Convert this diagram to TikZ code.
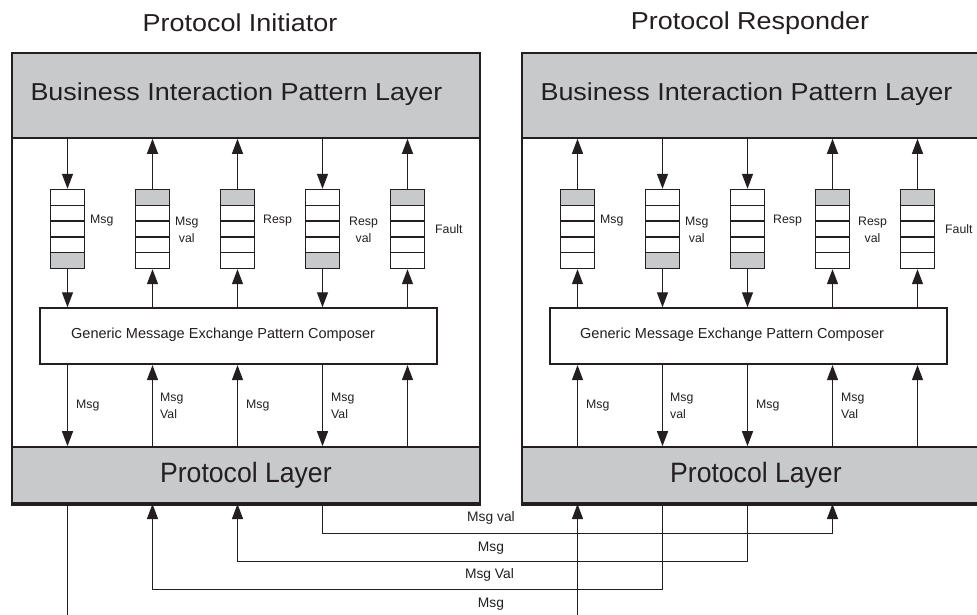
\documentclass[tikz,border=0pt]{standalone}
\usepackage{fontspec}
\setmainfont{Liberation Sans}
\newfontfamily\widesans[FakeStretch=1.1]{Liberation Sans}
\newfontfamily\narrowsans[FakeStretch=0.95]{Liberation Sans}
\usetikzlibrary{arrows.meta,shapes.multipart}
\definecolor{layergray}{HTML}{C8C9CB}
\definecolor{ink}{HTML}{231F20}
\tikzset{
  box/.style={draw=ink, line width=1.8pt, inner sep=0pt},
  layer/.style={box, fill=layergray},
  queue/.style={rectangle split, rectangle split parts=5, draw=ink, line width=1.4pt,
    inner xsep=0pt, inner ysep=0pt,
    rectangle split empty part height=14.4pt, rectangle split empty part depth=0pt,
    rectangle split empty part width=29pt},
  qup/.style={queue, rectangle split part fill={layergray,white,white,white,white}},
  qdown/.style={queue, rectangle split part fill={white,white,white,white,layergray}},
  arr/.style={draw=ink, line width=1.3pt, -{Triangle[length=15pt,width=11pt]}},
  titletext/.style={text=ink, inner sep=0pt, font=\widesans\fontsize{24.5}{29}\selectfont},
  bigtext/.style={text=ink, inner sep=0pt, font=\widesans\fontsize{24.5}{29}\selectfont},
  prototext/.style={text=ink, font=\narrowsans\fontsize{28}{32}\selectfont},
  comptext/.style={text=ink, inner sep=0pt, font=\fontsize{14.5}{17}\selectfont},
  qlabel/.style={text=ink, inner sep=0pt, align=center, font=\fontsize{12.3}{17}\selectfont},
  mlabel/.style={text=ink, inner sep=0pt, align=left, anchor=west, font=\fontsize{12.3}{17}\selectfont},
  blabel/.style={text=ink, inner sep=0pt, font=\fontsize{13.8}{16}\selectfont},
}
\begin{document}
\begin{tikzpicture}[x=1pt, y=-1pt]
\useasboundingbox (0,0) rectangle (977,615);
\clip (0,0) rectangle (977,615);

% ---------------- initiator side ----------------
\node[titletext] (L-title) at (240,23) {Protocol Initiator};
\node[box, anchor=north west, minimum width=468pt, minimum height=452pt] (L-frame) at (11,52) {};
\node[layer, anchor=north west, minimum width=468pt, minimum height=85pt] (L-biz) at (11,52) {};
\node[bigtext] (L-biztext) at (236.5,94.5) {Business Interaction Pattern Layer};
\node[layer, prototext, anchor=south west, minimum width=468pt, minimum height=56pt] (L-proto) at (11,504) {Protocol Layer};
\node[box, fill=white, anchor=north west, minimum width=397pt, minimum height=56pt] (L-comp) at (39.3,307.3) {};
\node[comptext, anchor=west] (L-comptext) at (71,335) {Generic Message Exchange Pattern Composer};

\node[qdown] (L-q1) at (67.5,229) {};
\node[qup]   (L-q2) at (152.5,229) {};
\node[qup]   (L-q3) at (237.5,229) {};
\node[qdown] (L-q4) at (322.5,229) {};
\node[qup]   (L-q5) at (407.5,229) {};

\node[qlabel, anchor=west] (L-l1) at (90,221) {Msg};
\node[qlabel, anchor=west] (L-l2) at (175,229.5) {Msg\\val};
\node[qlabel, anchor=west] (L-l3) at (263,221) {Resp};
\node[qlabel, anchor=west] (L-l4) at (349,229.5) {Resp\\val};
\node[qlabel, anchor=west] (L-l5) at (435,229) {Fault};

% business layer <-> queues
\draw[arr] (L-q1 |- L-biz.south) -- (L-q1.north);
\draw[arr] (L-q2.north) -- (L-q2 |- L-biz.south);
\draw[arr] (L-q3.north) -- (L-q3 |- L-biz.south);
\draw[arr] (L-q4 |- L-biz.south) -- (L-q4.north);
\draw[arr] (L-q5.north) -- (L-q5 |- L-biz.south);
% queues <-> composer
\draw[arr] (L-q1.south) -- (L-q1 |- L-comp.north);
\draw[arr] (L-q2 |- L-comp.north) -- (L-q2.south);
\draw[arr] (L-q3 |- L-comp.north) -- (L-q3.south);
\draw[arr] (L-q4.south) -- (L-q4 |- L-comp.north);
\draw[arr] (L-q5 |- L-comp.north) -- (L-q5.south);
% composer <-> protocol layer
\draw[arr] (L-q1 |- L-comp.south) -- (L-q1 |- L-proto.north);
\draw[arr] (L-q2 |- L-proto.north) -- (L-q2 |- L-comp.south);
\draw[arr] (L-q3 |- L-proto.north) -- (L-q3 |- L-comp.south);
\draw[arr] (L-q4 |- L-comp.south) -- (L-q4 |- L-proto.north);
\draw[arr] (L-q5 |- L-proto.north) -- (L-q5 |- L-comp.south);

\node[mlabel] (L-m1) at (76,406) {Msg};
\node[mlabel] (L-m2) at (160,405.5) {Msg\\Val};
\node[mlabel] (L-m3) at (246,406) {Msg};
\node[mlabel] (L-m4) at (331,405.5) {Msg\\Val};

% ---------------- responder side ----------------
\begin{scope}[xshift=510pt]
\node[titletext] (R-title) at (240,23) {Protocol Responder};
\node[box, anchor=north west, minimum width=468pt, minimum height=452pt] (R-frame) at (11,52) {};
\node[layer, anchor=north west, minimum width=468pt, minimum height=85pt] (R-biz) at (11,52) {};
\node[bigtext] (R-biztext) at (236.5,94.5) {Business Interaction Pattern Layer};
\node[layer, prototext, anchor=south west, minimum width=468pt, minimum height=56pt] (R-proto) at (11,504) {Protocol Layer};
\node[box, fill=white, anchor=north west, minimum width=397pt, minimum height=56pt] (R-comp) at (39.3,307.3) {};
\node[comptext, anchor=west] (R-comptext) at (70,335) {Generic Message Exchange Pattern Composer};

\node[qup]   (R-q1) at (67.5,229) {};
\node[qdown] (R-q2) at (152.5,229) {};
\node[qdown] (R-q3) at (237.5,229) {};
\node[qup]   (R-q4) at (322.5,229) {};
\node[qup]   (R-q5) at (407.5,229) {};

\node[qlabel, anchor=west] (R-l1) at (90,221) {Msg};
\node[qlabel, anchor=west] (R-l2) at (175,229.5) {Msg\\val};
\node[qlabel, anchor=west] (R-l3) at (263,221) {Resp};
\node[qlabel, anchor=west] (R-l4) at (348,229.5) {Resp\\val};
\node[qlabel, anchor=west] (R-l5) at (435,229) {Fault};

\draw[arr] (R-q1.north) -- (R-q1 |- R-biz.south);
\draw[arr] (R-q2 |- R-biz.south) -- (R-q2.north);
\draw[arr] (R-q3 |- R-biz.south) -- (R-q3.north);
\draw[arr] (R-q4.north) -- (R-q4 |- R-biz.south);
\draw[arr] (R-q5.north) -- (R-q5 |- R-biz.south);

\draw[arr] (R-q1 |- R-comp.north) -- (R-q1.south);
\draw[arr] (R-q2.south) -- (R-q2 |- R-comp.north);
\draw[arr] (R-q3.south) -- (R-q3 |- R-comp.north);
\draw[arr] (R-q4 |- R-comp.north) -- (R-q4.south);
\draw[arr] (R-q5 |- R-comp.north) -- (R-q5.south);

\draw[arr] (R-q1 |- R-proto.north) -- (R-q1 |- R-comp.south);
\draw[arr] (R-q2 |- R-comp.south) -- (R-q2 |- R-proto.north);
\draw[arr] (R-q3 |- R-comp.south) -- (R-q3 |- R-proto.north);
\draw[arr] (R-q4 |- R-proto.north) -- (R-q4 |- R-comp.south);
\draw[arr] (R-q5 |- R-proto.north) -- (R-q5 |- R-comp.south);

\node[mlabel] (R-m1) at (76,406) {Msg};
\node[mlabel] (R-m2) at (160,405.5) {Msg\\val};
\node[mlabel] (R-m3) at (246,406) {Msg};
\node[mlabel] (R-m4) at (331,405.5) {Msg\\Val};
\end{scope}

% ---------------- links between the two protocol layers ----------------
\draw[arr] (L-q4 |- L-proto.south) -- (L-q4 |- 0,533.5) -| (R-q4 |- R-proto.south);
\draw[arr] (R-q3 |- R-proto.south) -- (R-q3 |- 0,561.7) -| (L-q3 |- L-proto.south);
\draw[arr] (R-q2 |- R-proto.south) -- (R-q2 |- 0,589.5) -| (L-q2 |- L-proto.south);
\draw[arr] (L-q1 |- L-proto.south) -- (L-q1 |- 0,620) -| (R-q1 |- R-proto.south);

\node[blabel] (b1) at (491,518.3) {Msg val};
\node[blabel] (b2) at (491,547.7) {Msg};
\node[blabel] (b3) at (489.5,575) {Msg Val};
\node[blabel] (b4) at (491,604) {Msg};
\end{tikzpicture}
\end{document}
